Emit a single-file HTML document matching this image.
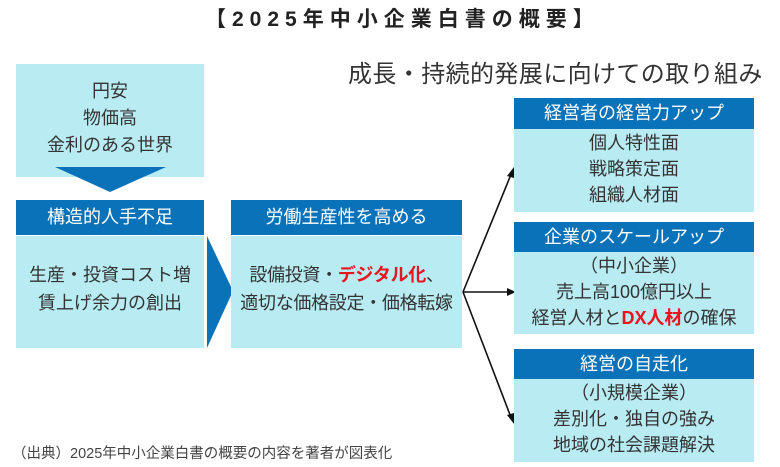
<!DOCTYPE html>
<html><head><meta charset="utf-8"><style>
body{margin:0;width:780px;height:467px;background:#fff;position:relative;overflow:hidden;font-family:"Liberation Sans","Noto Sans CJK JP",sans-serif;color:#333}
.a{position:absolute}
.lb{background:#b8ebf2}
.hd{background:#0a72b9;color:#fff;text-align:center;font-size:18px}
.c{text-align:center;font-size:18px;line-height:28px}
.r{color:#e8141e;font-weight:bold}
</style></head><body>
<div class="a" style="left:205px;top:7px;font-size:21px;line-height:26px;font-weight:bold;letter-spacing:6px;color:#222;white-space:nowrap">【2025年中小企業白書の概要】</div>
<div class="a" style="left:348px;top:60px;font-size:24px;line-height:30px;letter-spacing:0.4px;color:#333;white-space:nowrap">成長・持続的発展に向けての取り組み</div>

<div class="a lb c" style="left:16px;top:64px;width:188px;height:113px;padding-top:14px;box-sizing:border-box;line-height:27px">円安<br>物価高<br>金利のある世界</div>
<svg class="a" style="left:0;top:0" width="780" height="467">
<polygon points="55,167 166,167 110,192" fill="#0a72b9"/>
<polygon points="207,236 207,348 233,291" fill="#0a72b9"/>
<g stroke="#111" stroke-width="1.6" fill="none">
<line x1="463" y1="292" x2="512" y2="172"/>
<line x1="463" y1="292" x2="512" y2="292"/>
<line x1="463" y1="292" x2="512" y2="420"/>
</g>
<polygon points="514,167 507,176 514,178" fill="#111"/>
<polygon points="516,292 507,288 507,296" fill="#111"/>
<polygon points="514,424 507,415 514,413" fill="#111"/>
</svg>

<div class="a hd" style="left:16px;top:200px;width:188px;height:35px;line-height:35px">構造的人手不足</div>
<div class="a lb c" style="left:16px;top:236px;width:188px;height:112px;padding-top:25px;box-sizing:border-box">生産・投資コスト増<br>賃上げ余力の創出</div>

<div class="a hd" style="left:231px;top:200px;width:231px;height:35px;line-height:35px">労働生産性を高める</div>
<div class="a lb c" style="left:231px;top:236px;width:231px;height:112px;padding-top:25px;box-sizing:border-box;font-size:18px;letter-spacing:-0.3px">設備投資・<span class="r">デジタル化</span>、<br>適切な価格設定・価格転嫁</div>

<div class="a hd" style="left:514px;top:98px;width:240px;height:31px;line-height:31px">経営者の経営力アップ</div>
<div class="a lb c" style="left:514px;top:129px;width:240px;height:83px;padding-top:1px;box-sizing:border-box;line-height:26px">個人特性面<br>戦略策定面<br>組織人材面</div>

<div class="a hd" style="left:514px;top:222px;width:240px;height:30px;line-height:30px">企業のスケールアップ</div>
<div class="a lb c" style="left:514px;top:252px;width:240px;height:82px;padding-top:1px;box-sizing:border-box;line-height:26px">（中小企業）<br>売上高100億円以上<br>経営人材と<span class="r">DX人材</span>の確保</div>

<div class="a hd" style="left:514px;top:349px;width:240px;height:30px;line-height:30px">経営の自走化</div>
<div class="a lb c" style="left:514px;top:379px;width:240px;height:83px;padding-top:1px;box-sizing:border-box;line-height:26px">（小規模企業）<br>差別化・独自の強み<br>地域の社会課題解決</div>

<div class="a" style="left:12px;top:442px;font-size:14.5px;color:#444;white-space:nowrap">（出典）2025年中小企業白書の概要の内容を著者が図表化</div>
</body></html>
